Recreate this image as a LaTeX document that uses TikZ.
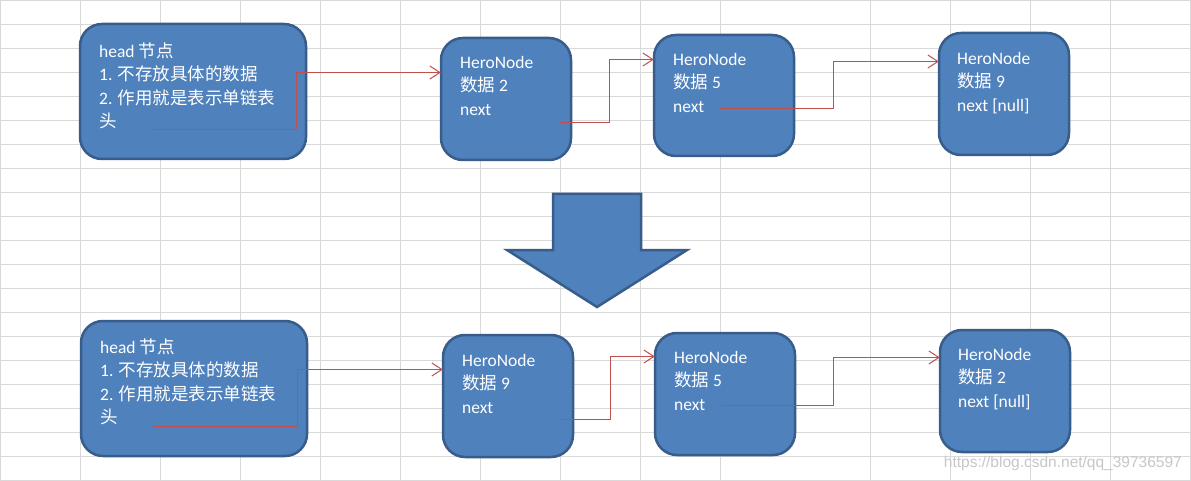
\documentclass[tikz,border=0pt]{standalone}
\usepackage{fontspec}
\setmainfont{Carlito}
\newfontfamily\cjk{Noto Sans CJK SC}
\newfontfamily\wmfont{Liberation Sans}
\usetikzlibrary{arrows.meta}
\definecolor{gridc}{HTML}{D9D9D9}
\definecolor{boxfill}{HTML}{4F81BD}
\definecolor{boxline}{HTML}{385D8A}
\definecolor{linkc}{HTML}{C0504D}
\newcommand{\zh}[1]{{\cjk #1}}
\newcommand{\lstrut}{\rule{0pt}{15pt}}
\tikzset{
  gridline/.style={draw=gridc, line width=1pt},
  listbox/.style={draw=boxline, fill=boxfill, line width=2.5pt, rounded corners=22pt},
  boxtext/.style={anchor=north west, inner sep=0pt, align=left, text=white,
    font=\fontsize{17.5}{23.5}\selectfont},
  link/.style={draw=linkc, line width=1.1pt, -{Straight Barb[length=10pt,width=13pt,line width=1pt]}},
}
\begin{document}
\begin{tikzpicture}[x=1pt,y=-1pt]
\useasboundingbox (0,0) rectangle (1191,481);
\fill[white] (0,0) rectangle (1191,481);
% grid
\foreach \gx in {0.5,80.5,160.5,240.5,320.5,400.5,480.5,560.5,640.5,720.5,870.5,950.5,1030.5,1110.5,1190.5}
  \draw[gridline] (\gx,0) -- (\gx,481);
\foreach \gy in {0,...,20}
  \draw[gridline] (0,\gy*24+0.5) -- (1191,\gy*24+0.5);

% top row boxes
\path[listbox] (80,24) rectangle (306,159);
\node[inner sep=0pt, minimum width=226pt, minimum height=135pt] (h1) at (193,91.5) {};
\path[listbox] (441,38) rectangle (571,160);
\node[inner sep=0pt, minimum width=130pt, minimum height=122pt] (n1) at (506,99) {};
\path[listbox] (654,35) rectangle (794,156);
\node[inner sep=0pt, minimum width=140pt, minimum height=121pt] (n2) at (724,95.5) {};
\path[listbox] (939,33) rectangle (1069,155);
\node[inner sep=0pt, minimum width=130pt, minimum height=122pt] (n3) at (1004,94) {};

% bottom row boxes
\path[listbox] (81,321) rectangle (307,456);
\node[inner sep=0pt, minimum width=226pt, minimum height=135pt] (h2) at (194,388.5) {};
\path[listbox] (443,335) rectangle (573,457);
\node[inner sep=0pt, minimum width=130pt, minimum height=122pt] (n4) at (508,396) {};
\path[listbox] (655,333) rectangle (795,455);
\node[inner sep=0pt, minimum width=140pt, minimum height=122pt] (n5) at (725,394) {};
\path[listbox] (940,330) rectangle (1070,452);
\node[inner sep=0pt, minimum width=130pt, minimum height=122pt] (n6) at (1005,391) {};

% texts
\node[boxtext] (h1t) at (99,42) {\lstrut head \zh{节点}\\1. \zh{不存放具体的数据}\\2. \zh{作用就是表示单链表}\\\zh{头}};
\node[boxtext] (n1t) at (460,53) {\lstrut HeroNode\\\zh{数据} 2\\next};
\node[boxtext] (n2t) at (673,50) {\lstrut HeroNode\\\zh{数据} 5\\next};
\node[boxtext] (n3t) at (957,49) {\lstrut HeroNode\\\zh{数据} 9\\next [null]};
\node[boxtext] (h2t) at (100,338) {\lstrut head \zh{节点}\\1. \zh{不存放具体的数据}\\2. \zh{作用就是表示单链表}\\\zh{头}};
\node[boxtext] (n4t) at (462,351) {\lstrut HeroNode\\\zh{数据} 9\\next};
\node[boxtext] (n5t) at (674,348) {\lstrut HeroNode\\\zh{数据} 5\\next};
\node[boxtext] (n6t) at (958,345) {\lstrut HeroNode\\\zh{数据} 2\\next [null]};

% connectors
\coordinate (c1s) at (153,129.5); \coordinate (c1k) at (296.5,72.5);
\draw[link] (c1s) -| (c1k) -- (n1.west |- c1k);
\coordinate (c2s) at (559,122.5); \coordinate (c2k) at (609.5,59.5);
\draw[link] (c2s) -| (c2k) -- (n2.west |- c2k);
\coordinate (c3s) at (720,108.5); \coordinate (c3k) at (833.5,61.5);
\draw[link] (c3s) -| (c3k) -- (n3.west |- c3k);
\coordinate (c4s) at (153,426.5); \coordinate (c4k) at (297.5,369.5);
\draw[link] (c4s) -| (c4k) -- (n4.west |- c4k);
\coordinate (c5s) at (561,419.5); \coordinate (c5k) at (610.5,356.5);
\draw[link] (c5s) -| (c5k) -- (n5.west |- c5k);
\coordinate (c6s) at (721,405.5); \coordinate (c6k) at (833.5,357.5);
\draw[link] (c6s) -| (c6k) -- (n6.west |- c6k);

% big down arrow
\draw[draw=boxline, fill=boxfill, line width=2.5pt, line join=miter]
  (553,194) -- (641,194) -- (641,250) -- (687,250) -- (597,307) -- (507,250) -- (553,250) -- cycle;

% watermark
\node[anchor=east, inner sep=0pt, text=black!22, font=\wmfont\fontsize{15.5}{16}\selectfont] (wm) at (1182,463) {https://blog.csdn.net/qq\_39736597};
\end{tikzpicture}
\end{document}
